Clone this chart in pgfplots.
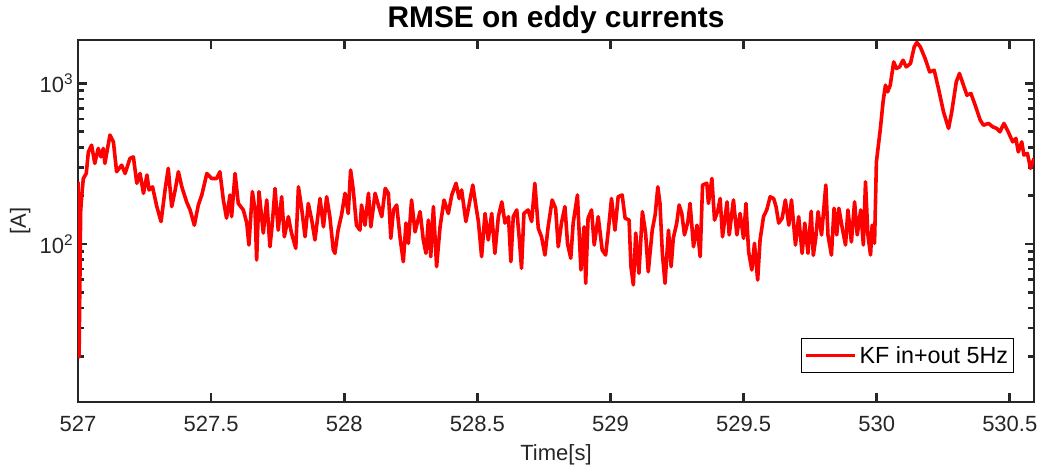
\documentclass[border=0pt]{standalone}
\usepackage{fontspec}
\setmainfont{Liberation Sans}
\usepackage{pgfplots}
\usepackage{pgfplotstable}
\pgfplotsset{compat=1.18}
\definecolor{axgray}{RGB}{38,38,38}
\pgfplotstableread{
x y
527.000 244
527.004 19.8
527.010 160
527.014 200
527.020 256
527.031 275
527.039 375
527.051 413
527.063 318
527.076 394
527.086 349
527.095 394
527.101 318
527.110 385
527.120 477
527.133 433
527.145 282
527.164 310
527.177 275
527.195 341
527.208 349
527.221 239
527.233 275
527.246 207
527.259 269
527.267 217
527.280 227
527.296 171
527.312 138
527.327 217
527.339 296
527.352 171
527.365 217
527.377 282
527.390 227
527.408 183
527.421 163
527.437 131
527.452 175
527.465 202
527.484 275
527.502 256
527.521 256
527.533 282
527.546 188
527.558 145
527.571 202
527.577 148
527.590 275
527.602 179
527.621 163
527.634 135
527.642 98.6
527.655 212
527.665 163
527.671 79.5
527.680 212
527.696 117
527.709 188
527.721 96.2
527.730 135
527.740 222
527.752 122
527.765 197
527.775 111
527.790 148
527.802 117
527.818 94.0
527.828 227
527.840 167
527.853 111
527.865 179
527.878 141
527.890 106
527.909 192
527.922 128
527.934 197
527.946 148
527.959 91.8
527.965 87.5
527.977 122
527.990 152
528.003 207
528.015 155
528.024 289
528.034 217
528.046 131
528.059 122
528.065 175
528.078 131
528.091 207
528.100 128
528.116 207
528.128 175
528.141 148
528.154 222
528.166 207
528.175 108.5
528.185 163
528.197 175
528.210 108.5
528.222 77.6
528.232 135
528.241 101
528.253 188
528.266 119
528.285 159
528.297 106
528.307 87.5
528.316 141
528.325 83.4
528.335 171
528.347 72.3
528.360 128
528.375 188
528.391 155
528.404 202
528.420 239
528.432 192
528.441 217
528.457 138
528.470 179
528.483 233
528.495 171
528.504 138
528.516 83.4
528.529 155
528.541 106
528.554 155
528.566 87.5
528.579 148
528.592 183
528.604 135
528.617 148
528.626 77.6
528.635 148
528.648 163
528.658 106
528.666 70.6
528.675 155
528.691 163
528.704 138
528.716 239
528.729 125
528.741 111
528.754 85.4
528.766 128
528.781 188
528.794 167
528.804 96.2
528.816 135
528.829 171
528.839 100
528.851 81.5
528.860 135
528.876 202
528.889 68.9
528.901 128
528.907 56.9
528.916 145
528.929 163
528.939 98.6
528.954 148
528.969 91.8
528.982 85.4
528.994 131
529.004 192
529.017 122
529.029 197
529.044 202
529.055 145
529.070 141
529.077 72.3
529.086 55.6
529.095 117
529.107 65.7
529.120 159
529.132 117
529.142 67.2
529.157 122
529.168 152
529.178 227
529.186 179
529.195 87.5
529.205 56.9
529.218 122
529.228 72.3
529.236 108.5
529.249 135
529.258 175
529.268 155
529.278 114
529.291 138
529.299 179
529.312 96.2
529.325 131
529.337 83.4
529.346 233
529.362 239
529.368 179
529.381 256
529.391 141
529.404 163
529.412 192
529.421 111
529.438 183
529.446 114
529.462 188
529.475 114
529.487 155
529.500 108.5
529.509 179
529.519 89.6
529.531 68.9
529.541 101
529.553 59.7
529.562 106
529.575 148
529.587 163
529.600 197
529.613 192
529.622 171
529.632 135
529.645 145
529.657 188
529.670 131
529.680 188
529.695 98.6
529.707 148
529.720 87.5
529.730 135
529.742 87.5
529.754 160
529.762 85
529.771 108.5
529.780 159
529.793 114
529.809 233
529.817 114
529.830 85.4
529.840 167
529.850 114
529.858 167
529.871 125
529.883 98.6
529.892 163
529.905 103
529.917 183
529.927 114
529.940 163
529.950 98.6
529.958 244
529.967 114
529.977 85.4
529.983 131
529.992 101
529.999 325
530.008 433
530.014 525
530.024 768
530.033 976
530.041 887
530.051 976
530.064 1363
530.074 1240
530.086 1269
530.099 1396
530.111 1269
530.127 1332
530.141 1690
530.151 1800
530.164 1690
530.182 1431
530.199 1181
530.216 1210
530.232 931
530.251 666
530.270 525
530.282 666
530.299 1023
530.311 1154
530.326 976
530.339 846
530.354 867
530.370 733
530.389 591
530.401 550
530.420 564
530.436 537
530.451 525
530.463 500
530.478 564
530.494 500
530.511 433
530.523 455
530.532 375
530.545 433
530.553 358
530.566 367
530.578 296
530.591 341
}\rmsedata
\begin{document}
\begin{tikzpicture}
\path[use as bounding box] (-58.5pt,-47.25pt) rectangle (719.25pt,301.5pt);
\begin{axis}[
  at={(0pt,0pt)}, anchor=south west,
  scale only axis, width=717pt, height=271.5pt,
  xmin=0, xmax=3.591, ymin=10.37, ymax=1866,
  ymode=log,
  xtick={0,0.5,1,1.5,2,2.5,3,3.5},
  xticklabels={527,527.5,528,528.5,529,529.5,530,530.5},
  ytick={100,1000},
  yticklabels={10\textsuperscript{2},10\textsuperscript{3}},
  extra y ticks={20,30,40,50,60,70,80,90,200,300,400,500,600,700,800,900},
  extra y tick labels={},
  extra y tick style={major tick length=4.5pt},
  xticklabel style={yshift=-7pt},
  tick align=inside,
  xtick pos=both, ytick pos=both,
  major tick length=6.75pt, minor tick length=4.5pt,
  xtick style={draw=axgray, line width=2pt},
  ytick style={draw=axgray, line width=2pt},
  every tick/.append style={draw=axgray, line width=2pt},
  axis line style={axgray, line width=2pt},
  tick label style={font=\fontsize{16.5}{19}\selectfont, text=axgray},
  label style={font=\fontsize{16.5}{19}\selectfont, text=axgray},
  xlabel style={yshift=-3pt},
  title={RMSE on eddy currents},
  title style={font=\fontsize{22.4}{26}\selectfont\bfseries, yshift=-5pt},
  xlabel={Time[s]}, ylabel={[A]},
  legend style={at={(0.979,0.080)}, anchor=south east, draw=black, line width=0.75pt,
    font=\fontsize{17.5}{20}\selectfont, inner xsep=2pt, inner ysep=3.6pt},
  legend cell align=left,
  legend image code/.code={\draw[#1] (0pt,0pt) -- (37pt,0pt);},
]
\addplot[color={rgb,255:red,255;green,0;blue,0}, line width=2.7pt, line join=round] table[x expr=\thisrow{x}-527, y=y] {\rmsedata};
\addlegendentry{KF in+out 5Hz}
\pgfplotsinvokeforeach{0.5,1,1.5,2,2.5,3,3.5}{
  \draw[axgray, line width=2pt] (axis cs:#1,10.37) -- ++(0pt,6.75pt);
  \draw[axgray, line width=2pt] (axis cs:#1,1866) -- ++(0pt,-6.75pt);
}
\end{axis}
\end{tikzpicture}
\end{document}
